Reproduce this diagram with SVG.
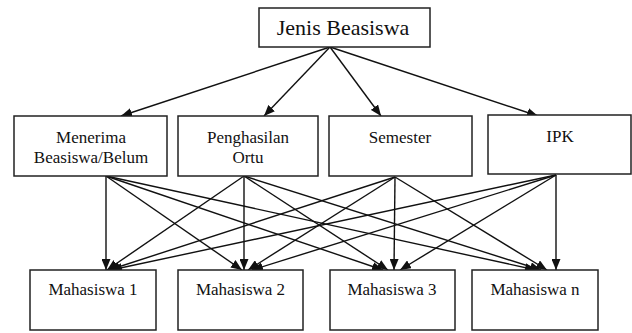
<svg xmlns="http://www.w3.org/2000/svg" width="632" height="333" viewBox="0 0 632 333">
<style>
.box{fill:#fff;stroke:#222;stroke-width:1.5}
.t{font-family:"Liberation Serif","Times New Roman",serif;font-size:17px;fill:#111;text-anchor:middle}
.conn line{stroke:#111;stroke-width:1.4;marker-end:url(#ah)}
</style>
<defs>
<marker id="ah" markerUnits="userSpaceOnUse" markerWidth="11" markerHeight="9" refX="11" refY="4.5" orient="auto">
<path d="M0,0 L11,4.5 L0,9 z" fill="#111"/>
</marker>
</defs>
<rect width="632" height="333" fill="#fff"/>
<g id="conns" class="conn">
<line x1="330" y1="47" x2="121" y2="116"/>
<line x1="330" y1="47" x2="264" y2="116"/>
<line x1="330" y1="47" x2="381" y2="116"/>
<line x1="330" y1="47" x2="538" y2="116"/>
<line x1="106" y1="176" x2="106" y2="270"/>
<line x1="106" y1="176" x2="242" y2="270"/>
<line x1="106" y1="176" x2="383" y2="270"/>
<line x1="106" y1="176" x2="536" y2="270"/>
<line x1="244" y1="176" x2="107" y2="270"/>
<line x1="244" y1="176" x2="244" y2="270"/>
<line x1="244" y1="176" x2="388" y2="270"/>
<line x1="244" y1="176" x2="541" y2="270"/>
<line x1="395" y1="177" x2="109" y2="270"/>
<line x1="395" y1="177" x2="248" y2="270"/>
<line x1="395" y1="177" x2="394" y2="270"/>
<line x1="395" y1="177" x2="547" y2="270"/>
<line x1="556" y1="175" x2="111" y2="270"/>
<line x1="556" y1="175" x2="252" y2="270"/>
<line x1="556" y1="175" x2="400" y2="270"/>
<line x1="556" y1="175" x2="556" y2="270"/>
</g>
<g id="jenis">
<rect class="box" x="259" y="8" width="171" height="39"/>
<text class="t" x="343" y="35" style="font-size:22px">Jenis Beasiswa</text>
</g>
<g id="menerima">
<rect class="box" x="14" y="116" width="153" height="60"/>
<text class="t" x="91" y="143">Menerima</text>
<text class="t" x="91" y="163">Beasiswa/Belum</text>
</g>
<g id="penghasilan">
<rect class="box" x="178" y="116" width="140" height="60"/>
<text class="t" x="248" y="143">Penghasilan</text>
<text class="t" x="248" y="163">Ortu</text>
</g>
<g id="semester">
<rect class="box" x="329" y="116" width="143" height="60"/>
<text class="t" x="400" y="143">Semester</text>
</g>
<g id="ipk">
<rect class="box" x="488" y="115" width="143" height="59"/>
<text class="t" x="560" y="142">IPK</text>
</g>
<g id="m1">
<rect class="box" x="30" y="270" width="126" height="60"/>
<text class="t" x="93" y="295">Mahasiswa 1</text>
</g>
<g id="m2">
<rect class="box" x="178" y="270" width="125" height="60"/>
<text class="t" x="240.5" y="295">Mahasiswa 2</text>
</g>
<g id="m3">
<rect class="box" x="330" y="270" width="125" height="60"/>
<text class="t" x="392" y="295">Mahasiswa 3</text>
</g>
<g id="mn">
<rect class="box" x="472" y="270" width="126" height="60"/>
<text class="t" x="535" y="295">Mahasiswa n</text>
</g>
</svg>
